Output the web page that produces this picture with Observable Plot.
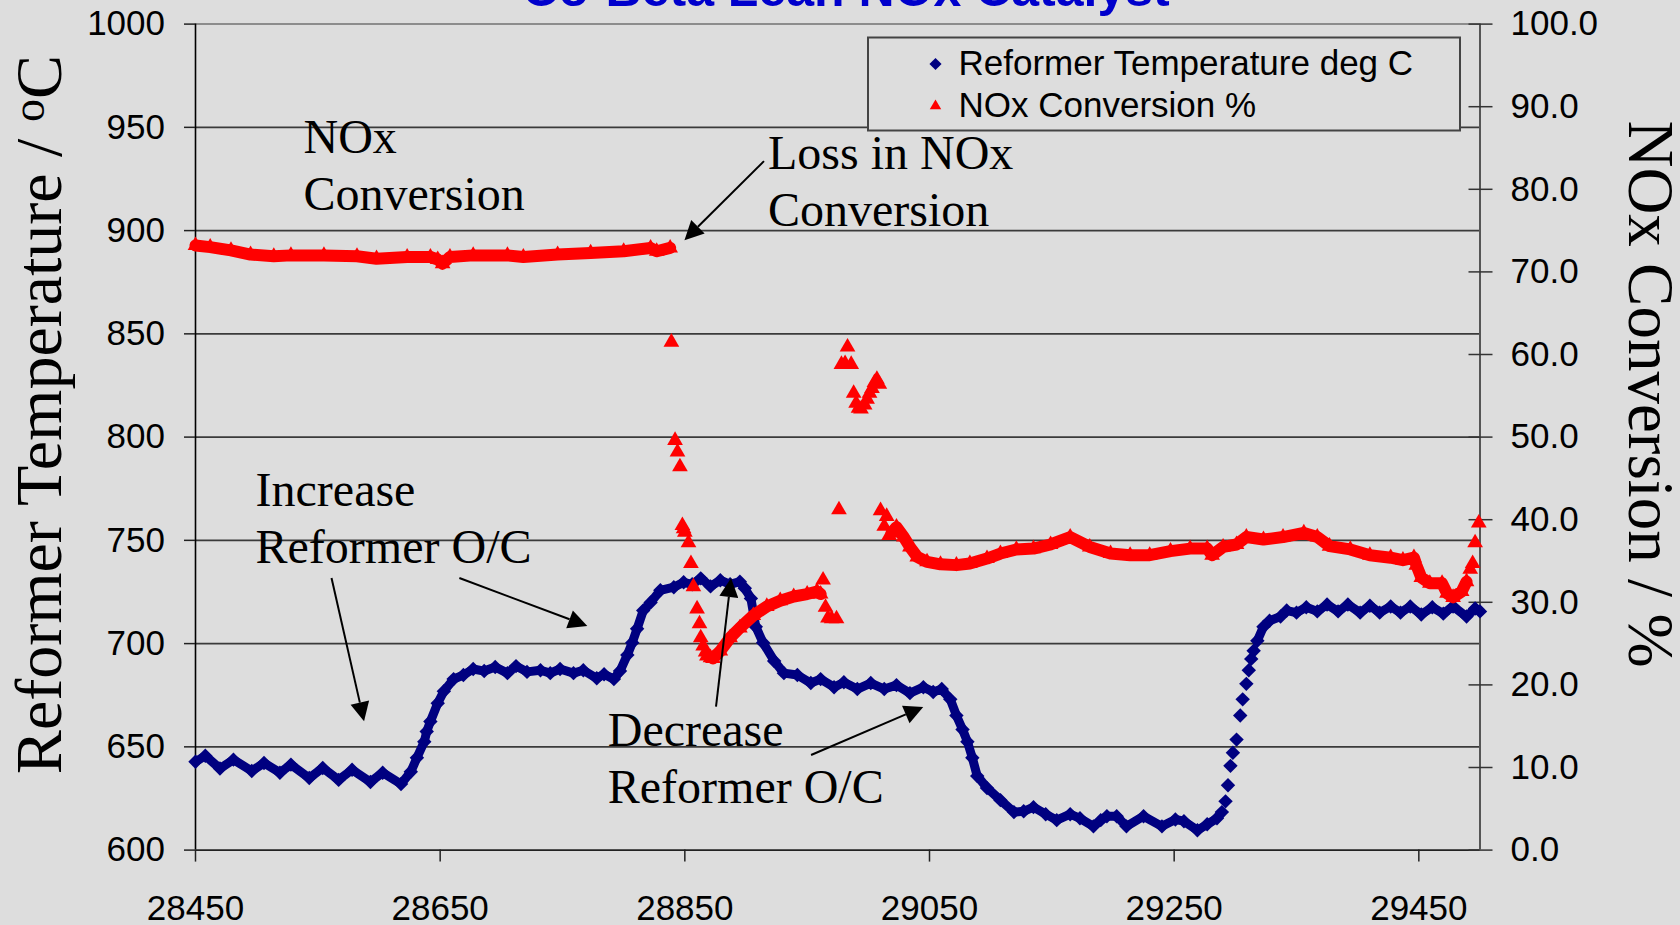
<!DOCTYPE html>
<html>
<head>
<meta charset="utf-8">
<script src="https://cdn.jsdelivr.net/npm/d3@7"></script>
<script src="https://cdn.jsdelivr.net/npm/@observablehq/plot@0.6"></script>
<style>
  html, body { margin: 0; padding: 0; background: #dddddd; overflow: hidden; }
  #chart { width: 1680px; height: 925px; }
</style>
</head>
<body>
<div id="chart"></div>
<script>
// ---- Data -------------------------------------------------------------
const chartTitle = "Co-Beta Lean NOx Catalyst";
const seriesNames = ["Reformer Temperature deg C", "NOx Conversion %"];
const leftAxisTitle = ["Reformer Temperature / ", "o", "C"];
const rightAxisTitle = "NOx Conversion / %";

const xTicks = [28450, 28650, 28850, 29050, 29250, 29450];
const tempTicks = [600, 650, 700, 750, 800, 850, 900, 950, 1000];
const noxTicks = [0, 10, 20, 30, 40, 50, 60, 70, 80, 90, 100];

// Reformer temperature (deg C) against time
const tempX = [
  28450, 28458, 28470, 28481, 28496, 28506, 28519, 28528, 28543, 28554, 28567,
  28578, 28593, 28603, 28618, 28626, 28631, 28637, 28639, 28642, 28648, 28653,
  28661, 28669, 28677, 28686, 28695, 28705, 28712, 28721, 28732, 28740, 28748,
  28759, 28767, 28778, 28784, 28792, 28797, 28803, 28807, 28811, 28816, 28822,
  28830, 28841, 28849, 28856, 28863, 28871, 28879, 28887, 28895, 28899, 28904,
  28908, 28914, 28923, 28931, 28942, 28953, 28961, 28972, 28980, 28991, 29002,
  29013, 29023, 29034, 29045, 29053, 29060, 29067, 29072, 29077, 29081, 29085,
  29089, 29097, 29108, 29119, 29127, 29135, 29145, 29154, 29165, 29173, 29184,
  29190,
  29195, 29203, 29211, 29225, 29240, 29251, 29258, 29269, 29277, 29285, 29289,
  29292, 29294, 29296, 29298, 29301, 29304, 29306, 29309, 29311, 29313, 29315,
  29318, 29323, 29328, 29337, 29342, 29350, 29358, 29367, 29375, 29384, 29392,
  29402, 29410, 29418, 29427, 29435, 29443, 29452, 29461, 29470, 29478, 29489,
  29496, 29500
];
const tempC = [
  642.8, 645.7, 639.5, 643.8, 638.3, 642.2, 637.5, 641.4, 634.9, 639.8, 634.0,
  638.9, 633.0, 637.5, 632.0, 637.9, 644.7, 652.5, 657.4, 662.3, 671.1, 676.9,
  682.8, 684.8, 687.7, 686.7, 688.7, 685.7, 689.1, 686.3, 687.1, 685.7, 687.7,
  685.7, 687.1, 683.2, 685.2, 682.8, 686.7, 694.5, 700.4, 707.2, 716.0, 719.9,
  725.8, 727.3, 729.7, 728.7, 731.6, 727.7, 730.7, 728.7, 730.0, 726.8, 721.9,
  708.2, 700.4, 691.6, 685.7, 684.8, 680.9, 682.8, 678.9, 681.3, 678.0, 680.9,
  678.0, 679.9, 676.0, 678.9, 676.6, 678.0, 673.0, 665.2, 658.4, 652.5, 644.7,
  635.9, 630.1, 624.2, 618.4, 618.8, 620.8, 617.4, 614.5, 617.4, 615.4, 611.5,
  614.5,
  616.4, 616.4, 611.5, 616.4, 611.5, 614.8, 614.0, 609.6, 612.5, 615.4, 618.4,
  623.6, 631.4, 640.8, 647.1, 653.5, 665.2, 673.0, 680.5, 687.1, 692.6, 696.5,
  701.4, 708.2, 711.1, 713.1, 716.0, 715.0, 717.6, 715.6, 718.9, 715.6, 718.9,
  715.0, 718.3, 715.0, 718.0, 715.0, 718.0, 714.1, 717.6, 714.5, 718.0, 713.1,
  717.0, 715.6
];
// time ranges where the temperature readings run together as a continuous band
const tempBands = [[28450, 29289], [29318, 29500]];

// NOx conversion (%) against time
const noxX = [
  28450, 28462, 28479, 28495, 28514, 28528, 28555, 28582, 28598, 28623, 28642,
  28648, 28652, 28658, 28677, 28705, 28718, 28746, 28773, 28800, 28822, 28827,
  28838,
  28839, 28842, 28844, 28846, 28848, 28849, 28850, 28853, 28855, 28857, 28860,
  28862, 28863, 28865, 28867, 28868, 28871,
  28873, 28879, 28887, 28895, 28906, 28917, 28928, 28939, 28950, 28958, 28961,
  28963, 28965, 28967, 28970, 28974, 28976, 28978, 28981, 28983, 28986, 28988,
  28990, 28992, 28994, 28997, 28999, 29001, 29003, 29005, 29007, 29009, 29010,
  29013, 29015, 29017,
  29019, 29023, 29029, 29034, 29040, 29048, 29059, 29072, 29083, 29097, 29108,
  29121, 29135, 29149, 29165, 29181, 29198, 29214, 29230, 29247, 29263, 29277,
  29281, 29290, 29301, 29309, 29323, 29339, 29356, 29367, 29377, 29394, 29410,
  29427, 29437, 29446, 29448, 29452, 29459, 29469, 29473, 29478, 29485, 29489,
  29492, 29494, 29496, 29499
];
const noxPct = [
  73.2, 73.0, 72.6, 72.1, 71.9, 72.0, 72.0, 71.9, 71.6, 71.8, 71.8,
  71.5, 71.0, 71.8, 72.0, 72.0, 71.8, 72.1, 72.3, 72.5, 72.9, 72.5,
  72.9,
  61.5, 49.6, 48.2, 46.4, 39.3, 38.9, 38.5, 37.2, 34.7, 31.9, 29.2,
  27.4, 25.7, 24.7, 24.0, 23.5, 23.3,
  23.2, 24.1, 25.7, 26.9, 28.4, 29.5, 30.2, 30.7, 31.0, 31.3, 31.0,
  32.7, 29.4, 28.1, 28.0, 28.0, 41.2, 58.8, 58.9, 60.9, 58.8, 55.3,
  54.1, 53.5, 53.4, 53.9, 54.6, 55.3, 55.9, 56.6, 57.0, 56.4, 41.1,
  39.2, 40.4, 38.1,
  38.4, 39.1, 37.9, 36.7, 35.5, 34.9, 34.6, 34.5, 34.7, 35.3, 35.9,
  36.4, 36.5, 37.0, 37.9, 36.7, 35.9, 35.7, 35.7, 36.2, 36.5, 36.5,
  35.7, 36.7, 37.0, 37.9, 37.6, 37.9, 38.4, 37.9, 36.8, 36.4, 35.7,
  35.4, 35.1, 35.4, 34.5, 33.0, 32.3, 32.3, 31.1, 30.6, 31.3, 32.5,
  34.0, 34.7, 37.2, 39.6
];
// time ranges where the NOx readings run together as a continuous band
const noxBands = [[28450, 28838], [28873, 28961], [29019, 29489]];

// ---- Layout & style -----------------------------------------------------
const W = 1680, H = 925;
const M = { top: 23.6, right: 200.5, bottom: 75.4, left: 195 };
const X_DOMAIN = [28450, 29500];
const T_DOMAIN = [600, 1000];
const BG = "#dddddd";
const NAVY = "#000080";
const RED = "#ff0000";
const SANS = "'Liberation Sans', Arial, sans-serif";
const SERIF = "'Liberation Serif', 'Times New Roman', serif";

// NOx % is drawn against the temperature scale: 0–100 % spans 600–1000
const noxToTemp = p => T_DOMAIN[0] + p * (T_DOMAIN[1] - T_DOMAIN[0]) / 100;
const tempToNox = t => (t - T_DOMAIN[0]) * 100 / (T_DOMAIN[1] - T_DOMAIN[0]);

const bandOf = (x, bands) => bands.findIndex(([a, b]) => x >= a && x <= b);

const temp = tempX.map((x, i) => ({ x, t: tempC[i], band: bandOf(x, tempBands) }));
const nox = noxX.map((x, i) => ({ x, p: noxPct[i], band: bandOf(x, noxBands) }));

const plot = Plot.plot({
  width: W,
  height: H,
  marginTop: M.top,
  marginRight: M.right,
  marginBottom: M.bottom,
  marginLeft: M.left,
  x: { domain: X_DOMAIN, label: null },
  y: { domain: T_DOMAIN, label: null },
  style: { background: BG, fontFamily: SANS, fontSize: "35px", color: "#000", overflow: "visible" },
  marks: [
    // horizontal gridlines and plot frame
    Plot.ruleY(tempTicks.filter(t => t > T_DOMAIN[0] && t < T_DOMAIN[1]), { stroke: "#3a3a3a", strokeWidth: 1.6 }),
    Plot.ruleY([T_DOMAIN[1]], { stroke: "#8c8c8c", strokeWidth: 2 }),
    Plot.ruleX([X_DOMAIN[0]], { stroke: "#000", strokeWidth: 1.6 }),
    Plot.ruleX([X_DOMAIN[1]], { stroke: "#555", strokeWidth: 2 }),
    Plot.ruleY([T_DOMAIN[0]], { stroke: "#222", strokeWidth: 1.6 }),

    // axes
    Plot.axisX({ ticks: xTicks, tickSize: 12, tickPadding: 33, tickFormat: d => String(d), fontSize: 35, label: null, stroke: "#222", strokeWidth: 1.5 }),
    Plot.axisY({ anchor: "left", ticks: tempTicks, tickSize: 11, tickPadding: 19.5, tickFormat: d => String(d), fontSize: 35, label: null, stroke: "#222", strokeWidth: 1.5 }),
    Plot.axisY({ anchor: "right", ticks: noxTicks.map(noxToTemp), tickSize: 24, dx: -12, tickPadding: 18.5,
                 tickFormat: t => tempToNox(t).toFixed(1), fontSize: 35, label: null, stroke: "#333", strokeWidth: 1.5 }),

    // reformer temperature
    Plot.line(temp.filter(d => d.band >= 0), { x: "x", y: "t", z: "band", stroke: NAVY, strokeWidth: 9 }),
    Plot.dot(temp, { x: "x", y: "t", symbol: "diamond2", r: 6.5, fill: NAVY }),

    // NOx conversion
    Plot.line(nox.filter(d => d.band >= 0), { x: "x", y: d => noxToTemp(d.p), z: "band", stroke: RED, strokeWidth: 12 }),
    Plot.dot(nox, { x: "x", y: d => noxToTemp(d.p), symbol: "triangle2", r: 7.5, fill: RED })
  ]
});

document.getElementById("chart").appendChild(plot);

// ---- Titles, legend and callouts ----------------------------------------
const xs = d3.scaleLinear(X_DOMAIN, [M.left, W - M.right]);
const ys = d3.scaleLinear(T_DOMAIN, [H - M.bottom, M.top]);
const svg = d3.select(plot);
const g = svg.append("g").attr("text-anchor", "start");

// chart title (sits at the very top edge)
g.append("text")
  .attr("x", 846).attr("y", 6)
  .attr("text-anchor", "middle")
  .attr("font-family", SANS).attr("font-weight", "bold").attr("font-size", 50)
  .attr("fill", "#0000cc")
  .text(chartTitle);

// left axis title with superscript degree "o"
const lt = g.append("text")
  .attr("transform", "translate(61,414.6) rotate(-90)")
  .attr("text-anchor", "middle")
  .attr("font-family", SERIF).attr("font-size", 66).attr("fill", "#000");
lt.append("tspan").text(leftAxisTitle[0]);
lt.append("tspan").attr("font-size", 46).attr("dy", -17).text(leftAxisTitle[1]);
lt.append("tspan").attr("dy", 17).text(leftAxisTitle[2]);

// right axis title
g.append("text")
  .attr("transform", "translate(1629,394) rotate(90)")
  .attr("text-anchor", "middle")
  .attr("font-family", SERIF).attr("font-size", 65).attr("fill", "#000")
  .text(rightAxisTitle);

// legend
const lg = g.append("g");
lg.append("rect")
  .attr("x", 868).attr("y", 37.5).attr("width", 592).attr("height", 93)
  .attr("fill", BG).attr("stroke", "#444").attr("stroke-width", 2);
const legendItems = [
  { name: seriesNames[0], symbol: d3.symbolDiamond2, color: NAVY, cy: 64, base: 75 },
  { name: seriesNames[1], symbol: d3.symbolTriangle2, color: RED, cy: 106, base: 117 }
];
legendItems.forEach(it => {
  lg.append("path")
    .attr("transform", `translate(935.5,${it.cy})`)
    .attr("d", d3.symbol(it.symbol, 30 * Math.PI)())
    .attr("fill", it.color);
  lg.append("text")
    .attr("x", 958.5).attr("y", it.base)
    .attr("text-anchor", "start")
    .attr("font-family", SANS).attr("font-size", 35).attr("fill", "#000")
    .text(it.name);
});

// callout text (anchor = left end of first baseline, in data coordinates)
const notes = [
  { at: [28538.7, 937.2], lines: ["NOx", "Conversion"] },
  { at: [28918.4, 929.6], lines: ["Loss in NOx", "Conversion"] },
  { at: [28499.5, 766.5], lines: ["Increase", "Reformer O/C"] },
  { at: [28787.4, 650.3], lines: ["Decrease", "Reformer O/C"] }
];
notes.forEach(n => {
  const t = g.append("text")
    .attr("x", xs(n.at[0])).attr("y", ys(n.at[1]))
    .attr("text-anchor", "start")
    .attr("font-family", SERIF).attr("font-size", 48).attr("fill", "#000");
  n.lines.forEach((line, i) => {
    t.append("tspan").attr("x", xs(n.at[0])).attr("dy", i === 0 ? 0 : 56.8).text(line);
  });
});

// callout arrows (from tail to tip, in data coordinates)
const arrows = [
  { from: [28915.1, 933.4], to: [28850.1, 895.1] },
  { from: [28561.6, 731.5], to: [28588.2, 662.2] },
  { from: [28666.1, 731.5], to: [28770.7, 708.3] },
  { from: [28875.9, 669.2], to: [28888.2, 731.5] },
  { from: [28953.6, 645.8], to: [29045.3, 669.1] }
];
arrows.forEach(a => {
  const x1 = xs(a.from[0]), y1 = ys(a.from[1]);
  const x2 = xs(a.to[0]), y2 = ys(a.to[1]);
  const ang = Math.atan2(y2 - y1, x2 - x1);
  const L = 19, HW = 9.5;
  const bx = x2 - L * Math.cos(ang), by = y2 - L * Math.sin(ang);
  g.append("line")
    .attr("x1", x1).attr("y1", y1).attr("x2", bx).attr("y2", by)
    .attr("stroke", "#000").attr("stroke-width", 2);
  g.append("path")
    .attr("d", `M${x2},${y2}L${bx + HW * Math.sin(ang)},${by - HW * Math.cos(ang)}L${bx - HW * Math.sin(ang)},${by + HW * Math.cos(ang)}Z`)
    .attr("fill", "#000");
});
</script>
</body>
</html>
